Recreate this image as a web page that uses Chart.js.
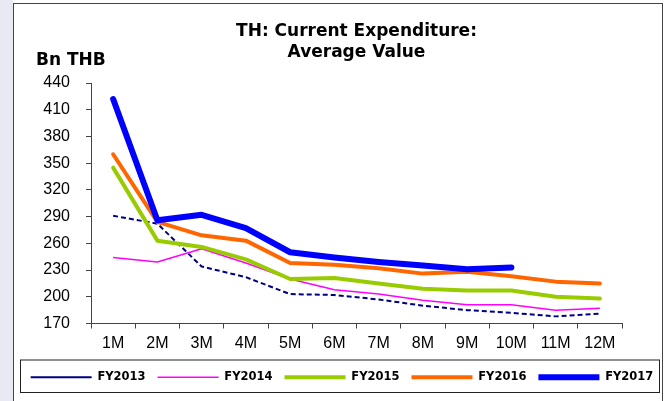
<!DOCTYPE html>
<html>
<head>
<meta charset="utf-8">
<script src="https://cdn.jsdelivr.net/npm/chart.js@4/dist/chart.umd.min.js"></script>
<style>
  html, body { margin: 0; padding: 0; background: #fff; }
  #wrap { width: 670px; height: 401px; }
</style>
</head>
<body>
<div id="wrap"><canvas id="expChart" width="670" height="401"></canvas></div>
<script>
// monthly average current expenditure, Bn THB
var months = ['1M', '2M', '3M', '4M', '5M', '6M', '7M', '8M', '9M', '10M', '11M', '12M'];
var fy2013 = [291, 282, 234, 222, 203, 202, 197, 190, 185, 182, 178, 181];
var fy2014 = [244, 239, 254, 238, 220, 208, 203, 196, 191, 191, 185, 187];
var fy2015 = [345, 263, 256, 242, 220, 221, 215, 209, 207, 207, 200, 198];
var fy2016 = [360, 284, 269, 263, 238, 236, 232, 226, 228, 223, 217, 215];
var fy2017 = [422, 286, 292, 277, 250, 244, 239, 235, 231, 233];
var yTicks = [170, 200, 230, 260, 290, 320, 350, 380, 410, 440];

const ctx = document.getElementById('expChart').getContext('2d');

// page background, outer frame, unit label and the box round the legend
const framePlugin = {
    id: 'frame',
    beforeDraw(chart) {
        const c = chart.ctx;
        c.save();
        c.fillStyle = '#ffffff';
        c.fillRect(0, 0, chart.width, chart.height);
        c.fillStyle = '#e9e9f3';
        c.fillRect(0, 0, 13, chart.height);
        c.strokeStyle = '#444';
        c.lineWidth = 1;
        c.strokeRect(13.5, 3.5, 649, chart.height + 5);
        c.restore();
    },
    afterDraw(chart) {
        const c = chart.ctx;
        const lg = chart.legend;
        c.save();
        c.strokeStyle = '#222';
        c.lineWidth = 1;
        c.strokeRect(lg.left + 6.5, lg.top + 0.5, lg.right - lg.left - 17, lg.height - 1);
        c.fillStyle = '#000';
        c.font = 'bold 17px "DejaVu Sans"';
        c.textBaseline = 'middle';
        c.textAlign = 'left';
        c.fillText('Bn THB', 36, 61);
        c.restore();
    }
};

const chart = new Chart(ctx, {
    type: 'line',
    data: {
        labels: months,
        datasets: [{
            label: 'FY2013',
            data: fy2013,
            borderColor: '#000080',
            borderWidth: 2,
            borderDash: [5, 3],
            order: 5
        }, {
            label: 'FY2014',
            data: fy2014,
            borderColor: '#ff00ff',
            borderWidth: 1.5,
            order: 4
        }, {
            label: 'FY2015',
            data: fy2015,
            borderColor: '#99cc00',
            borderWidth: 4,
            borderCapStyle: 'round',
            order: 3
        }, {
            label: 'FY2016',
            data: fy2016,
            borderColor: '#ff6600',
            borderWidth: 4,
            borderCapStyle: 'round',
            order: 2
        }, {
            label: 'FY2017',
            data: fy2017,
            borderColor: '#0000ff',
            borderWidth: 6,
            borderCapStyle: 'round',
            order: 1
        }]
    },
    options: {
        responsive: false,
        animation: false,
        layout: { padding: { left: 14, right: 0, top: 0, bottom: 8 } },
        elements: {
            point: { radius: 0 },
            line: { tension: 0, fill: false, borderJoinStyle: 'round', backgroundColor: 'transparent' }
        },
        scales: {
            x: {
                offset: true,
                afterFit: s => { s.height = 36; },
                grid: { offset: true, drawOnChartArea: false, tickLength: 5, color: '#444' },
                border: { color: '#444' },
                ticks: { color: '#000', padding: 5, font: { family: 'Liberation Sans', size: 16 } }
            },
            y: {
                min: 170,
                max: 440,
                afterFit: s => { s.width = 77; },
                afterBuildTicks: s => { s.ticks = yTicks.map(v => ({ value: v })); },
                grid: { drawOnChartArea: false, tickLength: 5, color: '#444' },
                border: { color: '#444' },
                ticks: { color: '#000', padding: 16, font: { family: 'Liberation Sans', size: 16 } }
            },
            yRight: {
                position: 'right',
                afterFit: s => { s.width = 48; },
                grid: { display: false },
                border: { display: false },
                ticks: { display: false }
            }
        },
        plugins: {
            title: {
                display: true,
                fullSize: false,
                text: ['TH: Current Expenditure:', 'Average Value'],
                color: '#000',
                font: { family: 'DejaVu Sans', size: 17, weight: 'bold', lineHeight: 21 / 17 },
                padding: { top: 21, bottom: 20 }
            },
            legend: {
                position: 'bottom',
                labels: {
                    usePointStyle: true,
                    pointStyle: 'line',
                    pointStyleWidth: 61,
                    padding: 12,
                    color: '#000',
                    font: { family: 'DejaVu Sans', size: 11.5, weight: 'bold' },
                    sort: (a, b) => a.datasetIndex - b.datasetIndex
                }
            },
            tooltip: { enabled: false }
        }
    },
    plugins: [framePlugin]
});
</script>
</body>
</html>
